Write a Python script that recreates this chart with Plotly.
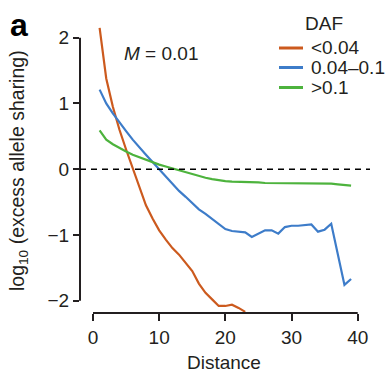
import plotly.graph_objects as go

# Distance bins and log10 excess allele sharing per derived allele frequency class
dist_low = list(range(1, 24))
low_daf = [2.15, 1.38, 0.95, 0.60, 0.30, 0.02, -0.26, -0.55, -0.75, -0.93,
           -1.07, -1.20, -1.30, -1.42, -1.55, -1.74, -1.88, -1.98, -2.08, -2.08,
           -2.06, -2.11, -2.17]

dist_mid = list(range(1, 40))
mid_daf = [1.21, 1.00, 0.85, 0.71, 0.58, 0.45, 0.33, 0.22, 0.11, 0.00,
           -0.12, -0.23, -0.33, -0.42, -0.52, -0.61, -0.68, -0.76, -0.84, -0.91,
           -0.94, -0.95, -0.96, -1.03, -0.98, -0.93, -0.93, -0.98, -0.88, -0.86,
           -0.86, -0.85, -0.84, -0.95, -0.92, -0.83, -1.30, -1.76, -1.67]

dist_high = list(range(1, 40))
high_daf = [0.59, 0.45, 0.38, 0.32, 0.27, 0.22, 0.18, 0.14, 0.11, 0.07,
            0.04, 0.01, -0.02, -0.05, -0.08, -0.10, -0.13, -0.15, -0.17, -0.18,
            -0.19, -0.19, -0.20, -0.20, -0.20, -0.21, -0.21, -0.21, -0.21, -0.21,
            -0.21, -0.21, -0.22, -0.22, -0.22, -0.22, -0.23, -0.24, -0.25]

series_names = ["<0.04", "0.04–0.1", ">0.1"]
series_colors = ["#cc5a1e", "#3d7cc9", "#4db33d"]

x_ticks = [0, 10, 20, 30, 40]
y_ticks = [-2, -1, 0, 1, 2]
y_ticktext = ["−2", "−1", "0", "1", "2"]

FONT = "Liberation Sans, Arial, Helvetica, sans-serif"
INK = "#231f20"
FS = 19

fig = go.Figure()
for xs, ys, name, color in zip([dist_low, dist_mid, dist_high],
                               [low_daf, mid_daf, high_daf],
                               series_names, series_colors):
    fig.add_trace(go.Scatter(x=xs, y=ys, mode="lines", name=name,
                             line=dict(color=color, width=2.2)))

# pixel geometry of the plotting area
W, H = 388, 374
L, R, T, B = 80, 16, 20, 61
PW, PH = W - L - R, H - T - B
px_per_x = 6.6175
px_per_y = 65.75
x0_px, y0_px = 93.0, 169.2
x_range = [(L - x0_px) / px_per_x, (W - R - x0_px) / px_per_x]
y_range = [-(H - B - y0_px) / px_per_y, (y0_px - T) / px_per_y]


def px_x(px):
    return (px - L) / PW


def px_y(py):
    return (H - B - py) / PH


fig.update_layout(
    width=W, height=H,
    margin=dict(l=L, r=R, t=T, b=B, autoexpand=False),
    paper_bgcolor="white", plot_bgcolor="white",
    font=dict(family=FONT, size=FS, color=INK),
    showlegend=False,
    xaxis=dict(range=x_range, tickvals=x_ticks, showgrid=False, zeroline=False,
               showline=False, ticks="outside", ticklen=7, tickwidth=2,
               tickcolor=INK, tickfont=dict(size=FS)),
    yaxis=dict(range=y_range, tickvals=y_ticks, ticktext=y_ticktext,
               showgrid=False, zeroline=False, showline=False, ticks="outside",
               ticklen=6, tickwidth=2, tickcolor=INK, tickfont=dict(size=FS)),
)

# detached axis spines spanning only the ticked range
fig.add_shape(type="line", xref="paper", yref="y", x0=0, x1=0,
              y0=y_ticks[0], y1=y_ticks[-1], line=dict(color=INK, width=2))
fig.add_shape(type="line", xref="x", yref="paper", x0=x_ticks[0], x1=x_ticks[-1],
              y0=0, y1=0, line=dict(color=INK, width=2))
# reference line at zero
fig.add_shape(type="line", xref="paper", yref="y", x0=0, x1=px_x(370), y0=0, y1=0,
              line=dict(color="black", width=1.6, dash="6px,5px"))


def label(text, px, py, size=FS, xanchor="center", **kw):
    fig.add_annotation(text=text, xref="paper", yref="paper", x=px_x(px), y=px_y(py),
                       xanchor=xanchor, yanchor="middle", showarrow=False,
                       font=dict(size=size, color=kw.pop("color", INK)), **kw)


# axis titles and panel annotations
label("Distance", 224, 362)
label("log<sub>10</sub> (excess allele sharing)", 18, 171, size=19.5, textangle=-90)
label("<i>M</i> = 0.01", 161, 54)
label("<b>a</b>", 19, 25, size=32, color="black")

# legend: DAF classes
label("DAF", 324, 23)
legend_rows = [48, 67.5, 87.5]
for name, color, row in zip(series_names, series_colors, legend_rows):
    fig.add_shape(type="line", xref="paper", yref="paper",
                  x0=px_x(279), x1=px_x(303), y0=px_y(row), y1=px_y(row),
                  line=dict(color=color, width=3))
    label(name, 309, row, xanchor="left")

fig.write_html("out.html")
